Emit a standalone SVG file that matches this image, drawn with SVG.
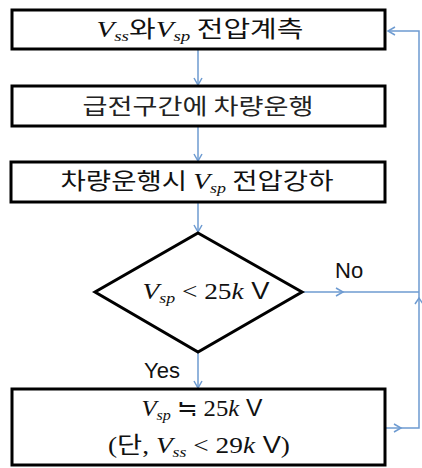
<svg xmlns="http://www.w3.org/2000/svg" width="422" height="468" viewBox="0 0 422 468">
<style>
.box{fill:#fff;stroke:#000;stroke-width:3}
.conn{fill:none;stroke:#6e9bd1;stroke-width:1.5}
.head{fill:none;stroke:#6e9bd1;stroke-width:1.5}
.t{font-family:"Liberation Serif","Noto Sans CJK KR",serif;font-size:23px;fill:#111;text-anchor:middle}
.k{font-family:"Noto Sans CJK KR","Liberation Sans",sans-serif;font-size:22px;fill:#222;text-anchor:middle}
.lbl{font-family:"Liberation Sans","Noto Sans",sans-serif;font-size:22px;fill:#111}
.i{font-style:italic}
.sub{font-size:15px;font-style:italic}
</style>
<defs>
<marker id="arr" markerWidth="10" markerHeight="10" refX="8" refY="5" orient="auto" markerUnits="userSpaceOnUse">
<path d="M1,1 L8,5 L1,9" class="head"/>
</marker>
</defs>
<g id="connectors">
<line class="conn" x1="198" y1="50" x2="198" y2="85" marker-end="url(#arr)"/>
<line class="conn" x1="198" y1="126" x2="198" y2="161" marker-end="url(#arr)"/>
<line class="conn" x1="198" y1="202" x2="198" y2="232" marker-end="url(#arr)"/>
<line class="conn" x1="198" y1="352" x2="198" y2="388" marker-end="url(#arr)"/>
<line class="conn" x1="302" y1="292" x2="343" y2="292" marker-end="url(#arr)"/>
<line class="conn" x1="343" y1="292" x2="419" y2="292"/>
<line class="conn" x1="386" y1="428" x2="401" y2="428" marker-end="url(#arr)"/>
<polyline class="conn" points="401,428 419,428 419,300"/>
<path class="head" d="M415,304 L419,298 L423,304"/>
<polyline class="conn" points="419,300 419,31 388,31"/>
<path class="head" d="M395,27 L388,31 L395,35"/>
</g>
<g id="node1">
<rect class="box" x="12" y="10" width="373" height="39"/>
<text class="t" x="200" y="37" textLength="207" lengthAdjust="spacingAndGlyphs"><tspan class="i">V</tspan><tspan class="sub" dy="4">ss</tspan><tspan dy="-4" font-family="Noto Sans CJK KR">와</tspan><tspan class="i">V</tspan><tspan class="sub" dy="4">sp</tspan><tspan dy="-4" font-family="Noto Sans CJK KR"> 전압계측</tspan></text>
</g>
<g id="node2">
<rect class="box" x="12" y="86" width="373" height="40"/>
<text class="k" x="198" y="114" textLength="231" lengthAdjust="spacingAndGlyphs">급전구간에 차량운행</text>
</g>
<g id="node3">
<rect class="box" x="11" y="162" width="374" height="40"/>
<text class="t" x="197" y="189" textLength="273" lengthAdjust="spacingAndGlyphs"><tspan font-family="Noto Sans CJK KR">차량운행시 </tspan><tspan class="i">V</tspan><tspan class="sub" dy="4">sp</tspan><tspan dy="-4" font-family="Noto Sans CJK KR"> 전압강하</tspan></text>
</g>
<g id="node4">
<polygon class="box" points="198,233 302,292 198,352 95,292"/>
<text class="t" x="206" y="299" textLength="127" lengthAdjust="spacingAndGlyphs"><tspan class="i">V</tspan><tspan class="sub" dy="4">sp</tspan><tspan dy="-4"> &lt; 25</tspan><tspan class="i">k</tspan><tspan font-family="Liberation Sans"> V</tspan></text>
</g>
<g id="node5">
<rect class="box" x="12" y="389" width="373" height="76"/>
<text class="t" x="202" y="416" textLength="121" lengthAdjust="spacingAndGlyphs"><tspan class="i">V</tspan><tspan class="sub" dy="4">sp</tspan><tspan dy="-4"> ≒ 25</tspan><tspan class="i">k</tspan><tspan font-family="Liberation Sans"> V</tspan></text>
<text class="t" x="199" y="453" textLength="182" lengthAdjust="spacingAndGlyphs">(<tspan font-family="Noto Sans CJK KR">단</tspan>, <tspan class="i">V</tspan><tspan class="sub" dy="4">ss</tspan><tspan dy="-4"> &lt; 29</tspan><tspan class="i">k</tspan><tspan font-family="Liberation Sans"> V</tspan>)</text>
</g>
<text class="lbl" x="335" y="278">No</text>
<text class="lbl" x="144" y="378">Yes</text>
</svg>
